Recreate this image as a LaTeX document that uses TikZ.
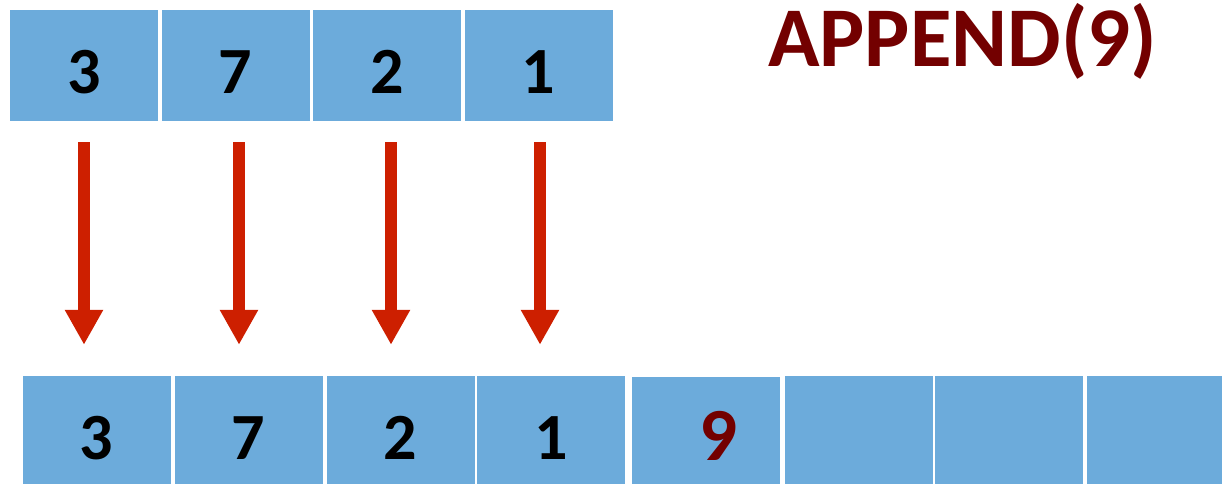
\documentclass[tikz,border=0pt]{standalone}
\usepackage{fontspec}
\setmainfont{Carlito}
\usetikzlibrary{arrows.meta}
\definecolor{cellblue}{RGB}{108,171,219}
\definecolor{arrred}{RGB}{205,31,0}
\definecolor{darkred}{RGB}{115,0,0}
\tikzset{
  cell/.style={fill=cellblue, draw=none, minimum width=148pt, minimum height=111pt, inner sep=0pt,
    font=\fontsize{66}{70}\selectfont\bfseries, text height=56pt, text depth=0pt},
  arr/.style={draw=arrred, line width=12pt, -{Triangle[width=36pt,length=35pt]},
    shorten <=21pt, shorten >=31pt},
  title/.style={font=\fontsize{85}{90}\selectfont\bfseries, text=darkred, inner sep=0pt, anchor=base west}
}
\begin{document}
\begin{tikzpicture}[x=1pt,y=-1pt]
\useasboundingbox (0,0) rectangle (1222,483);
\clip (0,0) rectangle (1222,483);
% top row
\node[cell] (t1) at (84,65.5) {3};
\node[cell] (t2) at (235.5,65.5) {7};
\node[cell] (t3) at (387,65.5) {2};
\node[cell] (t4) at (538.5,65.5) {1};
% bottom row
\node[cell] (b1) at (96.5,431.5) {3};
\node[cell] (b2) at (248.5,431.5) {7};
\node[cell] (b3) at (400.5,431.5) {2};
\node[cell] (b4) at (551,431.5) {1};
\node[cell, text=darkred, font=\fontsize{75}{80}\selectfont\bfseries, text height=56.5pt] (b5) at (706,432) {\hspace*{24pt}9};
\node[cell] (b6) at (858.5,431.5) {};
\node[cell] (b7) at (1009,431.5) {};
\node[cell] (b8) at (1160.5,431.5) {};
% arrows
\draw[arr] (t1.south) -- (t1.south |- b1.north);
\draw[arr] ([xshift=3.5pt]t2.south) -- ([xshift=3.5pt]t2.south |- b2.north);
\draw[arr] ([xshift=4pt]t3.south) -- ([xshift=4pt]t3.south |- b3.north);
\draw[arr] ([xshift=1.5pt]t4.south) -- ([xshift=1.5pt]t4.south |- b4.north);
% title
\node[title] (ttl) at (768,66) {APPEND(9)};
\end{tikzpicture}
\end{document}
